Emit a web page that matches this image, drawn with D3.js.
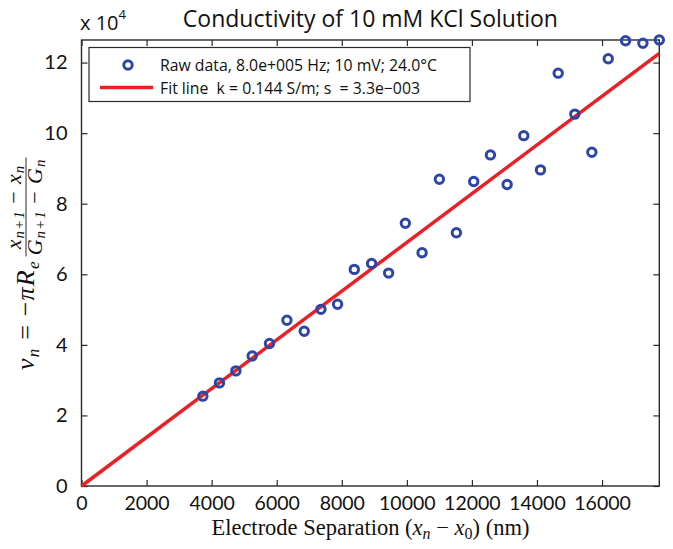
<!DOCTYPE html>
<html>
<head>
<meta charset="utf-8">
<script src="https://cdn.jsdelivr.net/npm/d3@7"></script>
<style>
  body { margin: 0; background: #fff; }
  text { fill: #111; }
</style>
</head>
<body>
<div id="chart"></div>
<script>
// electrode separation (nm) and computed velocity v_n
var sepNm = [3730, 4240, 4745, 5246, 5778, 6314, 6846, 7360, 7871, 8385,
             8917, 9440, 9954, 10468, 11000, 11523, 12055, 12569, 13083, 13594,
             14108, 14652, 15163, 15686, 16191, 16723, 17255, 17760];
var velocity = [25460, 29220, 32620, 36860, 40370, 46960, 43850, 50070, 51490, 61390,
                63080, 60340, 74480, 66110, 86930, 71770, 86280, 93830, 85430, 99290,
                89590, 117000, 105400, 94570, 121100, 126200, 125500, 126400];

// fit line end points
var fitX = [0, 17760];
var fitY = [0, 122600];

var xTicks = [0, 2000, 4000, 6000, 8000, 10000, 12000, 14000, 16000];
var yTicks = [0, 20000, 40000, 60000, 80000, 100000, 120000];

var legendLabels = ["Raw data, 8.0e+005 Hz; 10 mV; 24.0\u00B0C",
                    "Fit line  k = 0.144 S/m; s  = 3.3e\u2212003"];

var margin = {top: 40, right: 13.7, bottom: 63, left: 81.5};
var W = 673, H = 549;
var w = W - margin.left - margin.right;
var h = H - margin.top - margin.bottom;

var blue = "#2d46a6";
var red = "#ec2024";
var axisCol = "#2a2a2a";
var sans = "'Open Sans', 'Noto Sans', sans-serif";
var tickFont = "Lato, 'Open Sans', sans-serif";
var serif = "'Liberation Serif', 'DejaVu Serif', serif";

var svg = d3.select("#chart").append("svg")
    .attr("width", W)
    .attr("height", H);

var g = svg.append("g")
    .attr("transform", "translate(" + margin.left + "," + margin.top + ")");

var x = d3.scaleLinear().domain([0, 17760]).range([0, w]);
var y = d3.scaleLinear().domain([0, 126400]).range([h, 0]);

// ticks inside the box on all four sides
g.append("g")
    .attr("transform", "translate(0," + h + ")")
    .call(d3.axisBottom(x).tickValues(xTicks).tickSizeInner(-6).tickSizeOuter(0).tickPadding(10.5)
      .tickFormat(d3.format("d")))
    .call(function(s) {
      s.select(".domain").remove();
      s.selectAll("line").attr("stroke", axisCol).attr("stroke-width", 1.2);
      s.selectAll("text").attr("font-family", tickFont).attr("font-size", 19.5).attr("fill", "#111");
    });

g.append("g")
    .call(d3.axisTop(x).tickValues(xTicks).tickSizeInner(-6).tickSizeOuter(0).tickFormat(""))
    .call(function(s) {
      s.select(".domain").remove();
      s.selectAll("line").attr("stroke", axisCol).attr("stroke-width", 1.2);
    });

g.append("g")
    .call(d3.axisLeft(y).tickValues(yTicks).tickSizeInner(-6).tickSizeOuter(0).tickPadding(14)
      .tickFormat(function(d) { return d / 10000; }))
    .call(function(s) {
      s.select(".domain").remove();
      s.selectAll("line").attr("stroke", axisCol).attr("stroke-width", 1.2);
      s.selectAll("text").attr("font-family", tickFont).attr("font-size", 20).attr("fill", "#111");
    });

g.append("g")
    .attr("transform", "translate(" + w + ",0)")
    .call(d3.axisRight(y).tickValues(yTicks).tickSizeInner(-6).tickSizeOuter(0).tickFormat(""))
    .call(function(s) {
      s.select(".domain").remove();
      s.selectAll("line").attr("stroke", axisCol).attr("stroke-width", 1.2);
    });

g.append("rect")
    .attr("width", w)
    .attr("height", h)
    .attr("fill", "none")
    .attr("stroke", axisCol)
    .attr("stroke-width", 1.4);

// fit line
g.append("path")
    .datum(d3.zip(fitX, fitY))
    .attr("fill", "none")
    .attr("stroke", red)
    .attr("stroke-width", 3.5)
    .attr("d", d3.line().x(function(d) { return x(d[0]); }).y(function(d) { return y(d[1]); }));

// raw points
g.selectAll("circle.pt").data(d3.zip(sepNm, velocity)).enter()
  .append("circle")
    .attr("class", "pt")
    .attr("cx", function(d) { return x(d[0]); })
    .attr("cy", function(d) { return y(d[1]); })
    .attr("r", 4.2)
    .attr("fill", "none")
    .attr("stroke", blue)
    .attr("stroke-width", 3);

// legend
var lg = svg.append("g");
lg.append("rect")
    .attr("x", 89).attr("y", 47.5)
    .attr("width", 381).attr("height", 54)
    .attr("fill", "#fff")
    .attr("stroke", axisCol)
    .attr("stroke-width", 1.2);
lg.append("circle")
    .attr("cx", 128).attr("cy", 65).attr("r", 4.2)
    .attr("fill", "none").attr("stroke", blue).attr("stroke-width", 3);
lg.append("line")
    .attr("x1", 100).attr("x2", 153).attr("y1", 87.5).attr("y2", 87.5)
    .attr("stroke", red).attr("stroke-width", 3.5);
lg.selectAll("text.leg").data(legendLabels).enter()
  .append("text")
    .attr("class", "leg")
    .attr("x", 160)
    .attr("y", function(d, i) { return 71 + i * 22.5; })
    .attr("font-family", sans)
    .attr("font-size", 15.8)
    .style("white-space", "pre")
    .text(function(d) { return d; });

// title and exponent
svg.append("text")
    .attr("x", margin.left + w / 2)
    .attr("y", 27)
    .attr("text-anchor", "middle")
    .attr("font-family", sans)
    .attr("font-size", 23)
    .text("Conductivity of 10 mM KCl Solution");

var ex = svg.append("text")
    .attr("x", 80)
    .attr("y", 30)
    .attr("font-family", sans)
    .attr("font-size", 20)
    .text("x 10");
ex.append("tspan").attr("dy", -11).attr("font-size", 13).text("4");

// x label
var xl = svg.append("text")
    .attr("x", margin.left + w / 2)
    .attr("y", 534.5)
    .attr("text-anchor", "middle")
    .attr("font-family", serif)
    .attr("font-size", 22.5)
    .style("white-space", "pre");
xl.append("tspan").text("Electrode Separation (");
xl.append("tspan").attr("font-style", "italic").text("x");
xl.append("tspan").attr("font-style", "italic").attr("font-size", 16).attr("dy", 4).text("n");
xl.append("tspan").attr("dy", -4).text(" \u2212 ");
xl.append("tspan").attr("font-style", "italic").text("x");
xl.append("tspan").attr("font-size", 16).attr("dy", 4).text("0");
xl.append("tspan").attr("dy", -4).text(") (nm)");

// y label: v_n = -pi R_e (x_{n+1} - x_n)/(G_{n+1} - G_n)
var yl = svg.append("g")
    .attr("transform", "translate(34,370) rotate(-90)")
    .attr("font-family", serif);
var main = yl.append("text").attr("x", 0).attr("y", 0).attr("font-size", 26)
    .attr("letter-spacing", 1.2).style("white-space", "pre");
main.append("tspan").attr("font-style", "italic").text("v");
main.append("tspan").attr("font-style", "italic").attr("font-size", 17).attr("dy", 5).text("n");
main.append("tspan").attr("dy", -5).text(" = \u2212");
main.append("tspan").attr("font-style", "italic").text("\u03C0R");
main.append("tspan").attr("font-style", "italic").attr("font-size", 17).attr("dy", 5).text("e");
var mainLen = main.node().getComputedTextLength() + 4;

function fracPart(yPos, letter) {
  var t = yl.append("text").attr("y", yPos).attr("font-size", 22)
      .attr("letter-spacing", 1).style("white-space", "pre");
  t.append("tspan").attr("font-style", "italic").text(letter);
  t.append("tspan").attr("font-style", "italic").attr("font-size", 15).attr("dy", 3).text("n+1");
  t.append("tspan").attr("dy", -3).text(" \u2212 ");
  t.append("tspan").attr("font-style", "italic").text(letter);
  t.append("tspan").attr("font-style", "italic").attr("font-size", 15).attr("dy", 3).text("n");
  return t;
}
var num = fracPart(-13, "x");
var den = fracPart(8, "G");
var fw = Math.max(num.node().getComputedTextLength(), den.node().getComputedTextLength()) + 2;
num.attr("x", mainLen + (fw - num.node().getComputedTextLength()) / 2);
den.attr("x", mainLen + (fw - den.node().getComputedTextLength()) / 2);
yl.append("line")
    .attr("x1", mainLen).attr("x2", mainLen + fw)
    .attr("y1", -8).attr("y2", -8)
    .attr("stroke", "#111").attr("stroke-width", 0.9);
</script>
</body>
</html>
